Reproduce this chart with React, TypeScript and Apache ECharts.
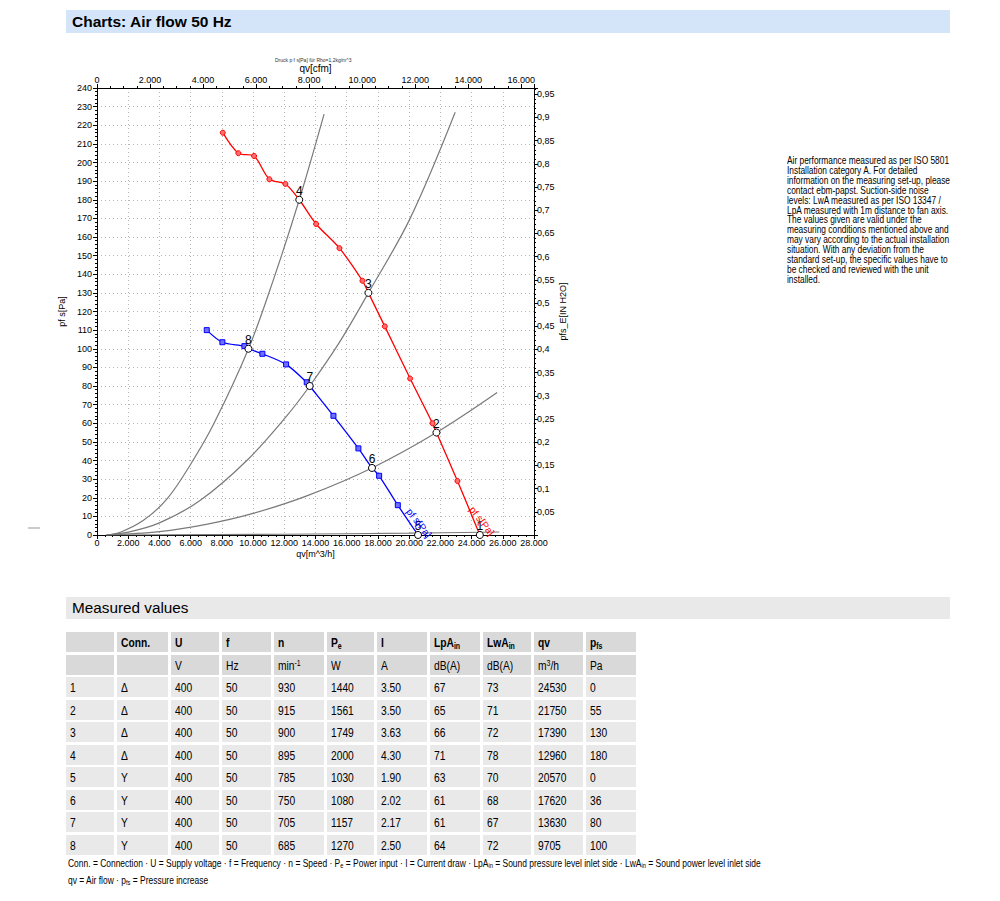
import React, { useEffect, useRef } from "react";
import * as echarts from "echarts";

// ---------- data ----------
const rowNo = ["1", "2", "3", "4", "5", "6", "7", "8"];
const connValues = ["Δ", "Δ", "Δ", "Δ", "Y", "Y", "Y", "Y"];
const voltageValues = ["400", "400", "400", "400", "400", "400", "400", "400"];
const freqValues = ["50", "50", "50", "50", "50", "50", "50", "50"];
const speedValues = ["930", "915", "900", "895", "785", "750", "705", "685"];
const powerValues = ["1440", "1561", "1749", "2000", "1030", "1080", "1157", "1270"];
const currentValues = ["3.50", "3.50", "3.63", "4.30", "1.90", "2.02", "2.17", "2.50"];
const lpaValues = ["67", "65", "66", "71", "63", "61", "61", "64"];
const lwaValues = ["73", "71", "72", "78", "70", "68", "67", "72"];
const qvValues = [24530, 21750, 17390, 12960, 20570, 17620, 13630, 9705];
const pfsValues = [0, 55, 130, 180, 0, 36, 80, 100];

// characteristic curves (qv m³/h, pfs Pa)
const deltaCurve = [
  [8058, 216], [9058, 205], [10064, 203.5], [11045, 191], [12071, 188.5],
  [12960, 180], [14038, 167], [15535, 154], [17009, 136.5], [17390, 130],
  [18440, 112], [20064, 84], [21494, 60], [21750, 55], [23096, 29], [24530, 0],
];
const starCurve = [
  [7032, 110], [8034, 103.5], [9444, 101.4], [9705, 100], [10596, 97.3],
  [12115, 91.6], [13440, 82], [13630, 80], [15150, 64], [16750, 46.5],
  [17620, 36], [18077, 31.8], [19275, 16], [20570, 0],
];
// system curves
const sysCurveA = [[600, 0], [1500, 1.5], [3000, 8], [4500, 19.5], [6000, 38], [7500, 60], [9705, 100], [11300, 137], [12960, 180], [14550, 226]];
const sysCurveB = [[600, 0], [2000, 1.5], [4000, 6.5], [6600, 18.5], [9600, 40], [12160, 64], [13630, 80], [15500, 103], [17390, 130], [20064, 170], [22950, 227]];
const sysCurveC = [[600, 0], [4000, 1.8], [7000, 5.7], [10000, 11.6], [13440, 21], [17620, 36], [21750, 55], [25640, 76.5]];
const sysCurveD = [[600, 0], [12000, 0.4], [20000, 1], [25770, 1.6]];

const headerLabels = ["", "Conn.", "U", "f", "n", "Pe", "I", "LpAin", "LwAin", "qv", "pfs"];
const unitLabels = ["", "", "V", "Hz", "min-1", "W", "A", "dB(A)", "dB(A)", "m3/h", "Pa"];

const noteLines = [
  "Air performance measured as per ISO 5801",
  "Installation category A. For detailed",
  "information on the measuring set-up, please",
  "contact ebm-papst. Suction-side noise",
  "levels: LwA measured as per ISO 13347 /",
  "LpA measured with 1m distance to fan axis.",
  "The values given are valid under the",
  "measuring conditions mentioned above and",
  "may vary according to the actual installation",
  "situation. With any deviation from the",
  "standard set-up, the specific values have to",
  "be checked and reviewed with the unit",
  "installed.",
];

const M3H_PER_CFM = 1.699;
const PA_PER_INH2O = 249.089;
const QV_MAX = 28000;
const P_MAX = 240;

// ---------- layout ----------
const colLefts = [66, 117, 171, 222, 274, 327, 377, 430, 483, 534, 586];
const colWidths = [48, 51, 48, 49, 50, 47, 50, 50, 48, 49, 50];
const tableTop = 632;
const rowPitch = 22.5;
const rowH = 20;

const FONT = '"Liberation Sans", Arial, Helvetica, sans-serif';

const dotFmt = (v: number) => String(Math.round(v)).replace(/\B(?=(\d{3})+(?!\d))/g, ".");

function Narrow({ children, size, bold, style }: any) {
  return (
    <span
      style={{
        display: "inline-block",
        transform: "scaleX(0.82)",
        transformOrigin: "left center",
        whiteSpace: "nowrap",
        fontSize: size,
        fontWeight: bold ? "bold" : "normal",
        ...style,
      }}
    >
      {children}
    </span>
  );
}

const subStyle: any = { fontSize: "0.68em", verticalAlign: "-0.2em", lineHeight: 0 };
const supStyle: any = { fontSize: "0.68em", verticalAlign: "0.45em", lineHeight: 0 };

function renderLabel(t: string) {
  switch (t) {
    case "Pe":
      return <>P<span style={subStyle}>e</span></>;
    case "LpAin":
      return <>LpA<span style={subStyle}>in</span></>;
    case "LwAin":
      return <>LwA<span style={subStyle}>in</span></>;
    case "pfs":
      return <>p<span style={subStyle}>fs</span></>;
    case "min-1":
      return <>min<span style={supStyle}>-1</span></>;
    case "m3/h":
      return <>m<span style={supStyle}>3</span>/h</>;
    default:
      return t;
  }
}

function Chart() {
  const ref = useRef<HTMLDivElement>(null);
  useEffect(() => {
    if (!ref.current) return;
    const chart = echarts.init(ref.current, undefined, { renderer: "svg" });
    const axisCommon: any = {
      axisLine: { show: true, onZero: false, lineStyle: { color: "#000", width: 1 } },
      axisTick: { show: true, length: 4, lineStyle: { color: "#000" } },
      minorTick: { show: true, splitNumber: 4, length: 2, lineStyle: { color: "#000" } },
      axisLabel: { color: "#000", fontSize: 9, fontFamily: FONT, margin: 4 },
      nameTextStyle: { color: "#000", fontSize: 9, fontFamily: FONT },
    };
    const grayLine = (data: number[][]) => ({
      type: "line",
      data,
      smooth: 0.35,
      symbol: "none",
      lineStyle: { color: "#7a7a7a", width: 1.2 },
      z: 2,
    });
    const opLabelData = qvValues.map((q, i) => [q, pfsValues[i]]);
    const staticGraphics: any[] = [
      {
        id: "druck",
        type: "text",
        left: 275,
        top: 57,
        style: { text: "Druck p f s[Pa] für Rho=1,2kg/m^3", fill: "#333", font: `5px ${FONT}`, width: 80, align: "center" },
      },
      {
        id: "dash",
        type: "line",
        shape: { x1: 28, y1: 528, x2: 40, y2: 528 },
        style: { stroke: "#999", lineWidth: 1 },
      },
    ];
    chart.setOption({
      animation: false,
      textStyle: { fontFamily: FONT },
      grid: { left: 97, top: 88, width: 437, height: 447, containLabel: false },
      xAxis: [
        {
          ...axisCommon,
          type: "value",
          position: "bottom",
          min: 0,
          max: QV_MAX,
          interval: 2000,
          axisLabel: { ...axisCommon.axisLabel, formatter: dotFmt, margin: 3 },
          splitLine: { show: true, lineStyle: { color: "#b5b5b5", type: [1, 3] } },
          name: "qv[m^3/h]",
          nameLocation: "middle",
          nameMoveOverlap: false,
          nameGap: 14,
        },
        {
          ...axisCommon,
          type: "value",
          position: "top",
          min: 0,
          max: QV_MAX / M3H_PER_CFM,
          interval: 2000,
          axisLabel: { ...axisCommon.axisLabel, formatter: dotFmt, showMaxLabel: false },
          splitLine: { show: false },
          name: "qv[cfm]",
          nameLocation: "middle",
          nameMoveOverlap: false,
          nameGap: 15,
          nameTextStyle: { ...axisCommon.nameTextStyle, fontSize: 10 },
        },
      ],
      yAxis: [
        {
          ...axisCommon,
          type: "value",
          position: "left",
          min: 0,
          max: P_MAX,
          interval: 10,
          minorTick: { ...axisCommon.minorTick, splitNumber: 5 },
          axisLabel: { ...axisCommon.axisLabel, margin: 5 },
          splitLine: { show: true, lineStyle: { color: "#b5b5b5", type: [1, 3] } },
          name: "pf s[Pa]",
          nameLocation: "middle",
          nameRotate: 90,
          nameGap: 31,
        },
        {
          ...axisCommon,
          type: "value",
          position: "right",
          min: 0,
          max: P_MAX / PA_PER_INH2O,
          interval: 0.05,
          minorTick: { ...axisCommon.minorTick, splitNumber: 5 },
          axisLabel: {
            ...axisCommon.axisLabel,
            margin: 3,
            showMinLabel: false,
            showMaxLabel: false,
            formatter: (v: number) => String(Math.round(v * 100) / 100).replace(".", ","),
          },
          splitLine: { show: false },
          name: "pfs_E[IN H2O]",
          nameLocation: "middle",
          nameRotate: 90,
          nameGap: 18,
        },
      ],
      graphic: staticGraphics,
      series: [
        grayLine(sysCurveA),
        grayLine(sysCurveB),
        grayLine(sysCurveC),
        grayLine(sysCurveD),
        {
          type: "line",
          data: deltaCurve,
          smooth: 0.3,
          symbol: "circle",
          symbolSize: 5,
          lineStyle: { color: "#ff0000", width: 1.3 },
          itemStyle: { color: "#ff7070", borderColor: "#ff0000", borderWidth: 1 },
          z: 3,
        },
        {
          type: "line",
          data: starCurve,
          smooth: 0.3,
          symbol: "rect",
          symbolSize: 5,
          lineStyle: { color: "#0000ff", width: 1.3 },
          itemStyle: { color: "#7070ff", borderColor: "#0000ff", borderWidth: 1 },
          z: 3,
        },
        {
          type: "scatter",
          data: opLabelData,
          symbol: "circle",
          symbolSize: 7,
          itemStyle: { color: "#fff", borderColor: "#000", borderWidth: 1, opacity: 1 },
          label: {
            show: true,
            position: "top",
            distance: -1,
            color: "#000",
            fontSize: 12,
            fontFamily: FONT,
            formatter: (p: any) => rowNo[p.dataIndex],
          },
          z: 5,
        },
      ],
    });
    // curve-name tags placed next to the curves' ends, via the axes' own scales
    const tag = (idx: number, color: string, dx: number, dy: number, id: string) => {
      const pt = chart.convertToPixel({ xAxisIndex: 0, yAxisIndex: 0 }, [qvValues[idx], pfsValues[idx]]) as number[];
      return {
        id,
        type: "text",
        x: pt[0] + dx,
        y: pt[1] + dy,
        rotation: (-52 * Math.PI) / 180,
        z: 10,
        style: { text: "pf s[Pa]", fill: color, font: `10px ${FONT}`, align: "center", verticalAlign: "middle" },
      };
    };
    chart.setOption({
      graphic: [...staticGraphics, tag(4, "#0000ff", 1, -12, "tagY"), tag(0, "#ff0000", 2, -14, "tagD")],
    });
    return () => chart.dispose();
  }, []);
  return <div ref={ref} style={{ position: "absolute", left: 0, top: 0, width: 1000, height: 590 }} />;
}

export default function App() {
  const dataCols = [rowNo, connValues, voltageValues, freqValues, speedValues, powerValues, currentValues, lpaValues, lwaValues, qvValues.map(String), pfsValues.map(String)];
  const cells: any[] = [];
  const allRows = [headerLabels, unitLabels, ...rowNo.map((_, r) => dataCols.map((c) => c[r]))];
  allRows.forEach((row, r) => {
    row.forEach((txt, c) => {
      cells.push(
        <div
          key={`${r}-${c}`}
          style={{
            position: "absolute",
            left: colLefts[c],
            top: tableTop + r * rowPitch,
            width: colWidths[c],
            height: rowH,
            background: r < 2 ? "#d9d9d9" : "#e9e9e9",
            lineHeight: `${rowH}px`,
            paddingLeft: 4,
            boxSizing: "border-box",
            overflow: "visible",
          }}
        >
          <Narrow size={12.5} bold={r === 0}>{renderLabel(txt)}</Narrow>
        </div>
      );
    });
  });

  return (
    <div style={{ position: "absolute", left: 0, top: 0, width: 1000, height: 901, background: "#fff", fontFamily: FONT, color: "#000", overflow: "hidden" }}>
      <Chart />
      {/* header bar */}
      <div style={{ position: "absolute", left: 66, top: 10, width: 884, height: 23, background: "#d5e5f9" }} />
      <div style={{ position: "absolute", left: 72, top: 10, height: 23, lineHeight: "23px", fontSize: 15.5, fontWeight: "bold" }}>
        Charts: Air flow 50 Hz
      </div>
      {/* note block */}
      {noteLines.map((l, i) => (
        <div key={i} style={{ position: "absolute", left: 787, top: 154 + i * 9.9, height: 10, lineHeight: "10px" }}>
          <Narrow size={10.2}>{l}</Narrow>
        </div>
      ))}
      {/* measured values bar */}
      <div style={{ position: "absolute", left: 66, top: 597, width: 884, height: 22, background: "#e9e9e9" }} />
      <div style={{ position: "absolute", left: 72, top: 597, height: 22, lineHeight: "22px", fontSize: 15.3 }}>
        Measured values
      </div>
      {cells}
      {/* footnotes */}
      <div style={{ position: "absolute", left: 68, top: 856, height: 12, lineHeight: "12px" }}>
        <Narrow size={10.3}>
          Conn. = Connection · U = Supply voltage · f = Frequency · n = Speed · P<span style={subStyle}>e</span> = Power input · I = Current draw · LpA<span style={subStyle}>in</span> = Sound pressure level inlet side · LwA<span style={subStyle}>in</span> = Sound power level inlet side
        </Narrow>
      </div>
      <div style={{ position: "absolute", left: 68, top: 873, height: 12, lineHeight: "12px" }}>
        <Narrow size={10.3}>
          qv = Air flow · p<span style={subStyle}>fs</span> = Pressure increase
        </Narrow>
      </div>
    </div>
  );
}
